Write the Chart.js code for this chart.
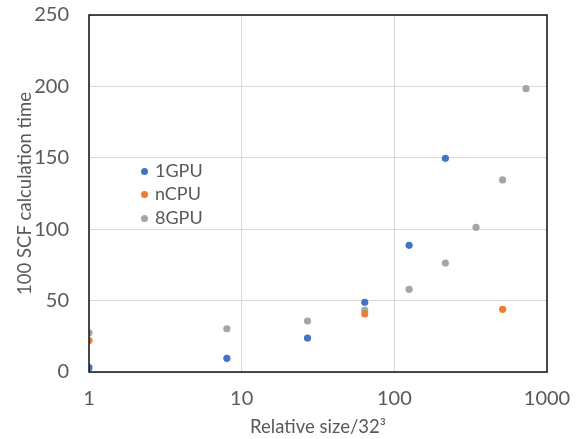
<!DOCTYPE html>
<html>
<head>
<meta charset="utf-8">
<script src="https://cdn.jsdelivr.net/npm/chart.js@4/dist/chart.umd.min.js"></script>
<style>
  html, body { margin: 0; padding: 0; background: #fff; }
  #wrap { position: relative; width: 577px; height: 439px; }
  #legend { position: absolute; left: 139px; top: 159px; font-family: Lato, sans-serif; font-size: 18px; color: #595959; }
  #legend div { height: 23.3px; line-height: 23.3px; white-space: nowrap; }
  #legend span { display: inline-block; width: 7px; height: 7px; border-radius: 50%; margin: 0 7px 0 2px; vertical-align: middle; position: relative; top: -1px; }
</style>
</head>
<body>
<div id="wrap">
  <canvas id="chart" width="577" height="439"></canvas>
  <div id="legend"></div>
</div>
<script>
// data
const seriesNames = ["1GPU", "nCPU", "8GPU"];
const colors = ["#4472C4", "#ED7D31", "#A5A5A5"];

const gpu1X = [1, 8, 27, 64, 125, 216];
const gpu1Y = [3, 9.6, 23.8, 48.8, 88.7, 149.6];

const ncpuX = [1, 64, 512];
const ncpuY = [22, 40.6, 43.9];

const gpu8X = [1, 8, 27, 64, 125, 216, 343, 512, 729];
const gpu8Y = [27.5, 30.3, 35.7, 43.2, 57.9, 76.3, 101.3, 134.5, 198.4];

const xTicks = [1, 10, 100, 1000];

const toPoints = (xs, ys) => xs.map((x, i) => ({ x: x, y: ys[i] }));
const allX = [gpu1X, ncpuX, gpu8X];
const allY = [gpu1Y, ncpuY, gpu8Y];

const datasets = seriesNames.map((name, i) => ({
  label: name,
  data: toPoints(allX[i], allY[i]),
  backgroundColor: colors[i],
  borderWidth: 0,
  pointRadius: 3.6,
  pointHoverRadius: 3.6
}));

// black frame around the plot
const frame = {
  id: "frame",
  afterDatasetsDraw(chart) {
    const a = chart.chartArea;
    const ctx = chart.ctx;
    ctx.save();
    ctx.strokeStyle = "#111";
    ctx.lineWidth = 1.5;
    ctx.strokeRect(a.left, a.top, a.right - a.left, a.bottom - a.top);
    ctx.restore();
  }
};

const tickFont = { family: "Lato, sans-serif", size: 20 };
const titleFont = { family: "Lato, sans-serif", size: 18.5 };

new Chart(document.getElementById("chart"), {
  type: "scatter",
  data: { datasets },
  options: {
    responsive: false,
    animation: false,
    layout: { padding: { left: 14, right: 30, top: 15, bottom: 1 } },
    plugins: { legend: { display: false }, tooltip: { enabled: false } },
    scales: {
      x: {
        type: "logarithmic",
        min: 1,
        max: 1000,
        afterBuildTicks: s => { s.ticks = xTicks.map(v => ({ value: v })); },
        afterFit: s => { s.height = 66; s.paddingLeft = 0; s.paddingRight = 0; },
        grid: { color: "#d9d9d9", drawTicks: false },
        border: { display: false },
        ticks: { font: tickFont, color: "#595959", padding: 15, maxRotation: 0, callback: v => String(v) },
        title: { display: true, text: "Relative size/32³", font: titleFont, color: "#595959", padding: 0 }
      },
      y: {
        min: 0,
        max: 250,
        afterFit: s => { s.width = 75; s.paddingTop = 0; s.paddingBottom = 0; },
        grid: { color: "#d9d9d9", drawTicks: false },
        border: { display: false },
        ticks: { stepSize: 50, font: tickFont, color: "#595959", padding: 20 },
        title: { display: true, text: "100 SCF calculation time", font: titleFont, color: "#595959", padding: 0 }
      }
    }
  },
  plugins: [frame]
});

// legend inside the plot
const legend = document.getElementById("legend");
seriesNames.forEach((name, i) => {
  const row = document.createElement("div");
  row.innerHTML = `<span style="background:${colors[i]}"></span>${name}`;
  legend.appendChild(row);
});
</script>
</body>
</html>
